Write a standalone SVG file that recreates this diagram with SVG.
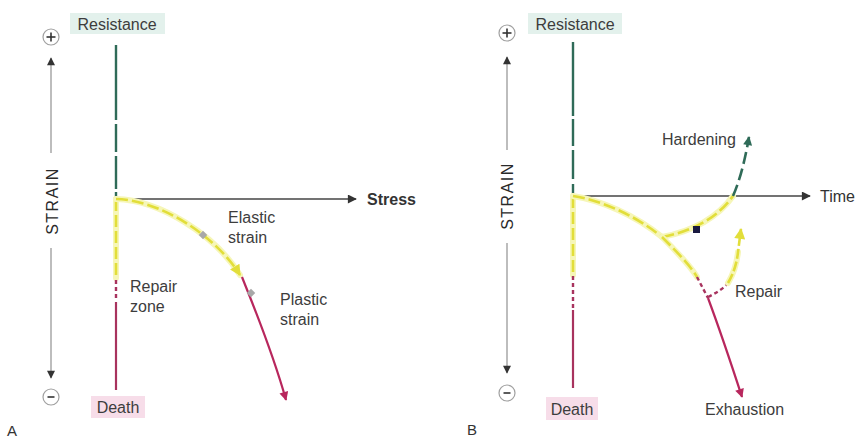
<svg xmlns="http://www.w3.org/2000/svg" width="856" height="441" viewBox="0 0 856 441">
<defs>
<style>
.lbl{font-family:"Liberation Sans",Arial,sans-serif;font-size:16px;fill:#3d3d3d}
.ax{stroke:#444;stroke-width:1.5;fill:none}
.sa{stroke:#9a9a9a;stroke-width:1.3;fill:none}
.circ{fill:#fff;stroke:#a0a0a0;stroke-width:1.2}
.sign{stroke:#333;stroke-width:1.6}
.grn{stroke:#2f6b58;stroke-width:2.4;fill:none}
.glow{stroke:#f6f6b8;stroke-width:6;fill:none;stroke-linecap:round}
.yel{stroke:#e2de3a;stroke-width:2.6;fill:none;stroke-dasharray:12 4}
.yels{stroke:#e2de3a;stroke-width:2.6;fill:none}
.mag{stroke:#b8275d;stroke-width:2.2;fill:none}
.magd{stroke:#a8335e;stroke-width:2.4;fill:none;stroke-dasharray:4 3}
.grnd{stroke:#2f6b58;stroke-width:2.6;fill:none;stroke-dasharray:12 5}
.rbox{fill:#e3f1ec}
.dbox{fill:#f7dde9}
</style>
<marker id="ahk" viewBox="0 0 10 10" refX="9" refY="5" markerWidth="12" markerHeight="9" markerUnits="userSpaceOnUse" orient="auto"><path d="M0,0 L10,5 L0,10 z" fill="#333"/></marker>
<marker id="ahg" viewBox="0 0 10 10" refX="9" refY="5" markerWidth="12" markerHeight="8" markerUnits="userSpaceOnUse" orient="auto"><path d="M0,0 L10,5 L0,10 z" fill="#333"/></marker>
<marker id="ahm" viewBox="0 0 10 10" refX="9" refY="5" markerWidth="12" markerHeight="9" markerUnits="userSpaceOnUse" orient="auto"><path d="M0,0 L10,5 L0,10 z" fill="#b8275d"/></marker>
<marker id="ahgr" viewBox="0 0 10 10" refX="9" refY="5" markerWidth="12" markerHeight="9" markerUnits="userSpaceOnUse" orient="auto"><path d="M0,0 L10,5 L0,10 z" fill="#2f6b58"/></marker>
<marker id="ahy" viewBox="0 0 10 10" refX="9" refY="5" markerWidth="14" markerHeight="11" markerUnits="userSpaceOnUse" orient="auto"><path d="M0,0 L10,5 L0,10 z" fill="#e2de3a"/></marker>
</defs>
<rect width="856" height="441" fill="#fff"/>

<!-- Panel A -->
<g id="panelA-strain-axis">
<circle class="circ" cx="51" cy="37" r="8"/>
<line class="sign" x1="46.5" y1="37" x2="55.5" y2="37"/>
<line class="sign" x1="51" y1="32.5" x2="51" y2="41.5"/>
<line class="sa" x1="51" y1="153" x2="51" y2="58" marker-end="url(#ahg)"/>
<text class="lbl" transform="translate(58,201) rotate(-90)" text-anchor="middle" style="font-size:16px;letter-spacing:1.5px;fill:#2a2a2a">STRAIN</text>
<line class="sa" x1="51" y1="248" x2="51" y2="378" marker-end="url(#ahg)"/>
<circle class="circ" cx="51" cy="397" r="8"/>
<line class="sign" x1="47.5" y1="397" x2="54.5" y2="397"/>
</g>
<g id="panelA-resistance">
<rect class="rbox" x="70" y="13" width="95" height="21"/>
<text class="lbl" x="117" y="30" text-anchor="middle">Resistance</text>
</g>
<g id="panelA-death">
<rect class="dbox" x="91" y="396" width="54" height="22"/>
<text class="lbl" x="118" y="413" text-anchor="middle">Death</text>
</g>
<text class="lbl" x="7" y="436" style="fill:#333;font-size:15px">A</text>
<g id="panelA-vertical">
<path class="grn" d="M116,45 V120 M116,124 V152 M116,156 V189 M116,192 V199"/>
<line x1="116" y1="199" x2="116" y2="278" class="glow"/>
<line x1="116" y1="199" x2="116" y2="278" class="yel"/>
<line x1="116" y1="280" x2="116" y2="301" class="magd"/>
<line x1="116" y1="302" x2="116" y2="390" class="mag" style="stroke:#a8335e"/>
</g>
<g id="panelA-connectors">
<line class="ax" x1="116" y1="199" x2="356" y2="199" marker-end="url(#ahk)"/>
<path class="glow" d="M116,199 C160,200 215,235 240,275"/>
<path class="yel" d="M116,199 C160,200 215,235 240,275" marker-end="url(#ahy)"/>
<path class="mag" d="M242,277 C255,310 272,350 286,400" marker-end="url(#ahm)"/>
<rect x="200" y="232" width="6" height="6" fill="#a8a8a8" transform="rotate(45 203 235)"/>
<rect x="248" y="290" width="6" height="6" fill="#a8a8a8" transform="rotate(45 251 293)"/>
</g>
<text class="lbl" x="367" y="205" style="font-weight:bold;fill:#333">Stress</text>
<text class="lbl" x="228" y="223">Elastic</text>
<text class="lbl" x="228" y="243">strain</text>
<text class="lbl" x="280" y="305">Plastic</text>
<text class="lbl" x="280" y="325">strain</text>
<text class="lbl" x="130" y="292">Repair</text>
<text class="lbl" x="130" y="312">zone</text>

<!-- Panel B -->
<g id="panelB-strain-axis">
<circle class="circ" cx="507" cy="33" r="8"/>
<line class="sign" x1="502.5" y1="33" x2="511.5" y2="33"/>
<line class="sign" x1="507" y1="28.5" x2="507" y2="37.5"/>
<line class="sa" x1="507" y1="150" x2="507" y2="57" marker-end="url(#ahg)"/>
<text class="lbl" transform="translate(513,196) rotate(-90)" text-anchor="middle" style="font-size:16px;letter-spacing:1.5px;fill:#2a2a2a">STRAIN</text>
<line class="sa" x1="507" y1="243" x2="507" y2="373" marker-end="url(#ahg)"/>
<circle class="circ" cx="507" cy="393" r="8"/>
<line class="sign" x1="503.5" y1="393" x2="510.5" y2="393"/>
</g>
<g id="panelB-resistance">
<rect class="rbox" x="528" y="13" width="94" height="21"/>
<text class="lbl" x="575" y="30" text-anchor="middle">Resistance</text>
</g>
<g id="panelB-death">
<rect class="dbox" x="546" y="397" width="52" height="23"/>
<text class="lbl" x="572" y="415" text-anchor="middle">Death</text>
</g>
<text class="lbl" x="467" y="435" style="fill:#333;font-size:15px">B</text>
<g id="panelB-vertical">
<path class="grn" d="M573,42 V116 M573,119 V146 M573,150 V179 M573,184 V196"/>
<line x1="573" y1="196" x2="573" y2="275" class="glow"/>
<line x1="573" y1="196" x2="573" y2="275" class="yel"/>
<line x1="573" y1="276" x2="573" y2="309" class="magd"/>
<line x1="573" y1="310" x2="573" y2="388" class="mag" style="stroke:#a8335e"/>
</g>
<g id="panelB-connectors">
<line class="ax" x1="573" y1="196" x2="810" y2="196" marker-end="url(#ahk)"/>
<path class="glow" d="M573,196 C600,200 635,215 662,237"/>
<path class="yel" d="M573,196 C600,200 635,215 662,237"/>
<path class="glow" d="M662,237 Q710,228 733,196"/>
<path class="yel" d="M662,237 Q710,228 733,196"/>
<path class="grnd" d="M733,196 C740,180 745,160 749,137" marker-end="url(#ahgr)"/>
<path class="glow" d="M662,237 C675,250 690,265 697,277"/>
<path class="yel" d="M662,237 C675,250 690,265 697,277"/>
<path class="magd" d="M697,277 L708,298"/>
<path class="mag" d="M708,298 C718,325 730,360 742,397" marker-end="url(#ahm)"/>
<path class="magd" d="M708,297 C716,293 723,289 728,283"/>
<path class="glow" d="M728,283 C734,273 737,262 738,252"/>
<path class="yels" d="M728,283 C734,273 737,262 738,252 L741,229" style="stroke-dasharray:10 3" marker-end="url(#ahy)"/>
<rect x="693" y="226" width="7" height="7" fill="#1a1a40"/>
</g>
<text class="lbl" x="662" y="145">Hardening</text>
<text class="lbl" x="820" y="202" style="fill:#333">Time</text>
<text class="lbl" x="735" y="297">Repair</text>
<text class="lbl" x="705" y="415">Exhaustion</text>
</svg>
